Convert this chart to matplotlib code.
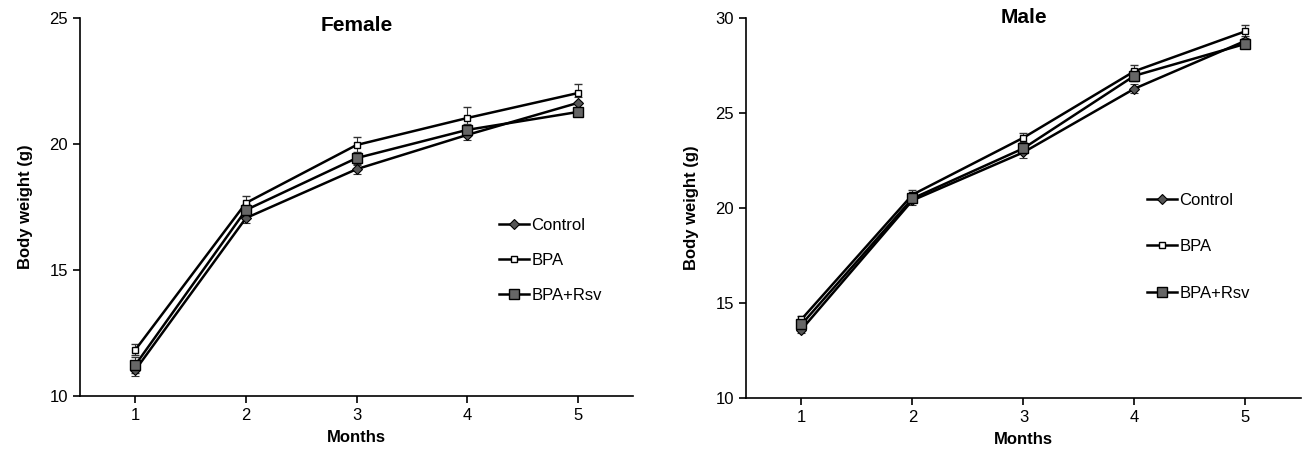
import numpy as np
import matplotlib.pyplot as plt
from matplotlib.lines import Line2D

plt.rcParams['font.family'] = ['Liberation Sans', 'DejaVu Sans']

months = [1, 2, 3, 4, 5]
groups = ["Control", "BPA", "BPA+Rsv"]

# Female
fCtrl = [11.03, 17.06, 19.00, 20.36, 21.63]
fBpa = [11.83, 17.66, 19.96, 21.03, 22.02]
fRsv = [11.23, 17.38, 19.44, 20.56, 21.27]
fCtrlErr = [0.25, 0.20, 0.18, 0.20, 0.25]
fBpaErr = [0.22, 0.28, 0.32, 0.45, 0.35]
fRsvErr = [0.30, 0.22, 0.25, 0.25, 0.15]

# Male
mCtrl = [13.60, 20.40, 22.93, 26.28, 28.80]
mBpa = [14.14, 20.70, 23.70, 27.20, 29.30]
mRsv = [13.87, 20.50, 23.14, 26.96, 28.64]
mCtrlErr = [0.20, 0.25, 0.30, 0.25, 0.25]
mBpaErr = [0.20, 0.25, 0.25, 0.30, 0.35]
mRsvErr = [0.25, 0.20, 0.25, 0.30, 0.20]

styles = [
    dict(marker="D", ms=5, mfc="#555555", mec="black", mew=0.8),
    dict(marker="s", ms=5, mfc="white", mec="black", mew=1.0),
    dict(marker="s", ms=7, mfc="#666666", mec="black", mew=1.0),
]

def DrawPanel(Ax, series, errs, yLim, yTicks, title, titleY, legLoc, legSp):
    for vals, err, st in zip(series, errs, styles):
        Ax.errorbar(months, vals, yerr=err, color="black", lw=1.8,
                    ecolor="#333333", elinewidth=0.8, capsize=3, capthick=0.8,
                    **st)
    Ax.set_xlim(0.5, 5.5)
    Ax.set_ylim(yLim)
    Ax.set_xticks(months)
    Ax.set_yticks(yTicks)
    Ax.spines["top"].set_visible(False)
    Ax.spines["right"].set_visible(False)
    Ax.spines["left"].set_linewidth(1.2)
    Ax.spines["bottom"].set_linewidth(1.2)
    Ax.tick_params(labelsize=12, width=1.2, length=5, direction="out")
    Ax.set_xlabel("Months", fontsize=12, fontweight="bold", labelpad=5)
    Ax.set_ylabel("Body weight (g)", fontsize=12, fontweight="bold", labelpad=12)
    Ax.text(0.5, titleY, title, transform=Ax.transAxes, ha="center",
            va="center", fontsize=15, fontweight="bold")
    hh = [Line2D([], [], color="black", lw=1.8, **st) for st in styles]
    Ax.legend(hh, groups, loc="upper left", bbox_to_anchor=legLoc,
              frameon=False, fontsize=12, handlelength=1.8,
              handletextpad=0.15, labelspacing=legSp)

fig = plt.figure(figsize=(13.05, 4.5), dpi=100)

AxF = fig.add_axes([0.0613, 0.12, 0.4238, 0.84])
DrawPanel(AxF, [fCtrl, fBpa, fRsv], [fCtrlErr, fBpaErr, fRsvErr],
          (10, 25), [10, 15, 20, 25], "Female", 0.98, (0.73, 0.51), 1.2)

AxM = fig.add_axes([0.5716, 0.1156, 0.4253, 0.8444])
DrawPanel(AxM, [mCtrl, mBpa, mRsv], [mCtrlErr, mBpaErr, mRsvErr],
          (10, 30), [10, 15, 20, 25, 30], "Male", 1.0, (0.695, 0.58), 1.9)

plt.savefig("out.png", dpi=100)
